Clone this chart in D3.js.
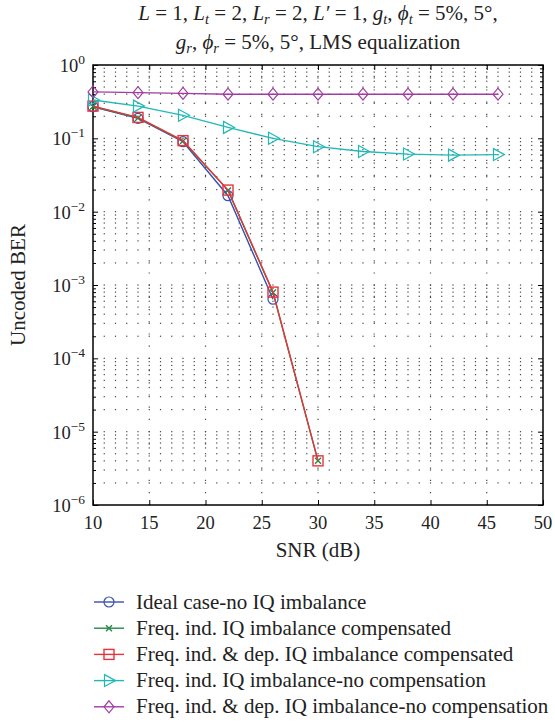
<!DOCTYPE html>
<html>
<head>
<meta charset="utf-8">
<script src="https://cdn.jsdelivr.net/npm/d3@7"></script>
<style>
  body { margin: 0; background: #fff; }
</style>
</head>
<body>
<svg id="chart"></svg>
<script>
const snrIdeal = [10, 14, 18, 22, 26];
const berIdeal = [0.27, 0.187, 0.09, 0.0165, 0.00064];
const snrComp = [10, 14, 18, 22, 26, 30];
const berIndComp = [0.272, 0.19, 0.092, 0.0195, 0.00079, 0.000004];
const berDepComp = [0.275, 0.193, 0.093, 0.0197, 0.0008, 0.000004];
const snrNoComp = [10, 14, 18, 22, 26, 30, 34, 38, 42, 46];
const berIndNoComp = [0.333, 0.275, 0.206, 0.141, 0.1, 0.077, 0.066, 0.061, 0.059, 0.06];
const berDepNoComp = [0.43, 0.42, 0.41, 0.40, 0.40, 0.40, 0.40, 0.40, 0.40, 0.40];
const xTicks = [10, 15, 20, 25, 30, 35, 40, 45, 50];
const yExponents = [0, -1, -2, -3, -4, -5, -6];

const series = [
  { name: "Ideal case-no IQ imbalance", color: "#3a4fb0", marker: "circle", x: snrIdeal, y: berIdeal },
  { name: "Freq. ind. IQ imbalance compensated", color: "#24884a", marker: "cross", x: snrComp, y: berIndComp },
  { name: "Freq. ind. & dep. IQ imbalance compensated", color: "#e8343a", marker: "square", x: snrComp, y: berDepComp },
  { name: "Freq. ind. IQ imbalance-no compensation", color: "#22b8b8", marker: "triangle", x: snrNoComp, y: berIndNoComp },
  { name: "Freq. ind. & dep. IQ imbalance-no compensation", color: "#a23ca2", marker: "diamond", x: snrNoComp, y: berDepNoComp }
];

const width = 555, height = 725;
const marginLeft = 93, marginRight = 12, marginTop = 65, marginBottom = 220;
const font = "'Liberation Serif', 'DejaVu Serif', serif";
const textSize = 21, tickSize = 18.5;

const svg = d3.select("#chart").attr("width", width).attr("height", height)
  .attr("font-family", font);

const x = d3.scaleLinear([10, 50], [marginLeft, width - marginRight]);
const y = d3.scaleLog([1e-6, 1], [height - marginBottom, marginTop]);

// grid: dots at minor intersections, plus sparse dotted major x lines
const minorY = [];
for (let e = -6; e < 0; e++) for (let m = 1; m < 10; m++) minorY.push(m * Math.pow(10, e));
minorY.push(1);
const gridX = d3.range(11, 50);
const grid = svg.append("g").attr("fill", "#444");
gridX.forEach(v => {
  minorY.forEach(w => {
    if (w === 1e-6 || w === 1) return;
    grid.append("rect").attr("x", x(v) - 0.6).attr("y", y(w) - 0.6)
      .attr("width", 1.2).attr("height", 1.2);
  });
});
svg.append("g").selectAll("line").data(xTicks.slice(1, -1)).join("line")
  .attr("x1", d => x(d)).attr("x2", d => x(d))
  .attr("y1", y(1)).attr("y2", y(1e-6))
  .attr("stroke", "#444").attr("stroke-width", 1.2)
  .attr("stroke-dasharray", "1.2,11");

// axes ticks (inward)
svg.append("g")
  .attr("transform", `translate(0,${y(1e-6)})`)
  .call(d3.axisBottom(x).tickValues(xTicks).tickSize(-5).tickFormat(""))
  .call(g => g.select(".domain").remove());
svg.append("g")
  .attr("transform", `translate(0,${y(1)})`)
  .call(d3.axisTop(x).tickValues(xTicks).tickSize(-5).tickFormat(""))
  .call(g => g.select(".domain").remove());

const isDecade = d => Math.abs(Math.log10(d) - Math.round(Math.log10(d))) < 1e-9;
svg.append("g")
  .attr("transform", `translate(${x(10)},0)`)
  .call(d3.axisLeft(y).tickValues(minorY).tickSize(-3).tickFormat(""))
  .call(g => g.select(".domain").remove())
  .call(g => g.selectAll(".tick line").filter(isDecade).attr("x2", 5));
svg.append("g")
  .attr("transform", `translate(${x(50)},0)`)
  .call(d3.axisRight(y).tickValues(minorY).tickSize(-3).tickFormat(""))
  .call(g => g.select(".domain").remove())
  .call(g => g.selectAll(".tick line").filter(isDecade).attr("x2", -5));

// frame
svg.append("rect")
  .attr("x", x(10)).attr("y", y(1))
  .attr("width", x(50) - x(10)).attr("height", y(1e-6) - y(1))
  .attr("fill", "none").attr("stroke", "#000").attr("stroke-width", 1.5);

// tick labels
svg.append("g").selectAll("text").data(xTicks).join("text")
  .attr("x", d => x(d)).attr("y", y(1e-6) + 24)
  .attr("text-anchor", "middle").attr("font-size", tickSize).attr("fill", "#222")
  .text(d => d);

const yl = svg.append("g").selectAll("text").data(yExponents).join("text")
  .attr("x", marginLeft - 8).attr("y", d => y(Math.pow(10, d)) + 7)
  .attr("text-anchor", "end").attr("font-size", tickSize).attr("fill", "#222");
yl.append("tspan").text("10");
yl.append("tspan").attr("dy", -8).attr("font-size", 13.5)
  .text(d => d === 0 ? "0" : "\u2212" + (-d));

// axis titles
svg.append("text")
  .attr("x", (x(10) + x(50)) / 2).attr("y", y(1e-6) + 52)
  .attr("text-anchor", "middle").attr("font-size", textSize).attr("fill", "#222")
  .text("SNR (dB)");
svg.append("text")
  .attr("transform", `translate(25,${(y(1) + y(1e-6)) / 2}) rotate(-90)`)
  .attr("text-anchor", "middle").attr("font-size", textSize).attr("fill", "#222")
  .text("Uncoded BER");

// title
function mathLine(yPos, parts) {
  const t = svg.append("text")
    .attr("x", (x(10) + x(50)) / 2).attr("y", yPos)
    .attr("text-anchor", "middle").attr("font-size", textSize).attr("fill", "#222");
  parts.forEach(p => {
    const s = t.append("tspan").text(p.t);
    if (p.i) s.attr("font-style", "italic");
    if (p.sub) s.attr("font-size", 14.5).attr("dy", 4);
    if (p.back) s.attr("dy", -4);
  });
}
mathLine(20, [
  { t: "L", i: 1 }, { t: " = 1, " }, { t: "L", i: 1 }, { t: "t", i: 1, sub: 1 }, { t: " = 2, ", back: 1 },
  { t: "L", i: 1 }, { t: "r", i: 1, sub: 1 }, { t: " = 2, ", back: 1 }, { t: "L\u2032", i: 1 }, { t: " = 1, " },
  { t: "g", i: 1 }, { t: "t", i: 1, sub: 1 }, { t: ", ", back: 1 }, { t: "\u03d5", i: 1 }, { t: "t", i: 1, sub: 1 },
  { t: " = 5%, 5\u00b0,", back: 1 }
]);
mathLine(49, [
  { t: "g", i: 1 }, { t: "r", i: 1, sub: 1 }, { t: ", ", back: 1 }, { t: "\u03d5", i: 1 }, { t: "r", i: 1, sub: 1 },
  { t: " = 5%, 5\u00b0, LMS equalization", back: 1 }
]);

// markers
function drawMarker(g, type, color, cx, cy) {
  if (type === "circle") {
    g.append("circle").attr("cx", cx).attr("cy", cy).attr("r", 5)
      .attr("fill", "none").attr("stroke", color).attr("stroke-width", 1.2);
  } else if (type === "square") {
    g.append("rect").attr("x", cx - 5).attr("y", cy - 5).attr("width", 10).attr("height", 10)
      .attr("fill", "none").attr("stroke", color).attr("stroke-width", 1.4);
  } else if (type === "cross") {
    g.append("path").attr("d", `M${cx - 3},${cy - 3}L${cx + 3},${cy + 3}M${cx - 3},${cy + 3}L${cx + 3},${cy - 3}`)
      .attr("stroke", color).attr("stroke-width", 1.4);
  } else if (type === "triangle") {
    g.append("path").attr("d", `M${cx - 4.5},${cy - 6}L${cx + 6.5},${cy}L${cx - 4.5},${cy + 6}Z`)
      .attr("fill", "none").attr("stroke", color).attr("stroke-width", 1.2);
  } else if (type === "diamond") {
    g.append("path").attr("d", `M${cx},${cy - 6}L${cx + 5},${cy}L${cx},${cy + 6}L${cx - 5},${cy}Z`)
      .attr("fill", "none").attr("stroke", color).attr("stroke-width", 1.2);
  }
}

const line = d3.line().x(d => x(d[0])).y(d => y(d[1]));
series.forEach(s => {
  const pts = s.x.map((v, j) => [v, s.y[j]]);
  const g = svg.append("g");
  g.append("path").attr("d", line(pts)).attr("fill", "none")
    .attr("stroke", s.color).attr("stroke-width", 1.4);
  pts.forEach(p => drawMarker(g, s.marker, s.color, x(p[0]), y(p[1])));
});

// legend
const legend = svg.append("g");
series.forEach((s, i) => {
  const ly = 602 + i * 26.2;
  const g = legend.append("g");
  g.append("line").attr("x1", 94).attr("x2", 124).attr("y1", ly).attr("y2", ly)
    .attr("stroke", s.color).attr("stroke-width", 1.4);
  drawMarker(g, s.marker, s.color, 109, ly);
  g.append("text").attr("x", 136).attr("y", ly + 6.5).attr("font-size", textSize)
    .attr("fill", "#222").text(s.name);
});
</script>
</body>
</html>
